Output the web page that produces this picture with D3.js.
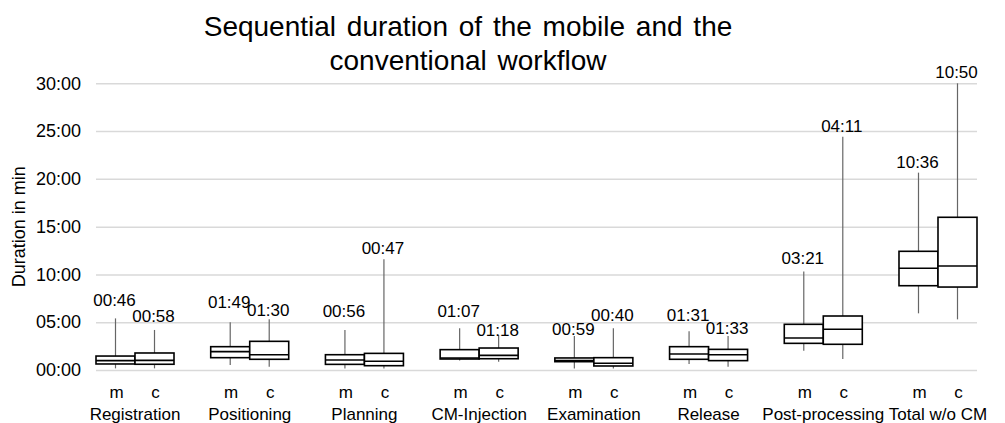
<!DOCTYPE html>
<html>
<head>
<meta charset="utf-8">
<script src="https://cdn.jsdelivr.net/npm/d3@7"></script>
<style>
  body { margin: 0; background: #fff; }
  text { font-family: "Liberation Sans", Arial, sans-serif; fill: #000; }
</style>
</head>
<body>
<div id="chart"></div>
<script>
const categories = ['Registration', 'Positioning', 'Planning', 'CM-Injection', 'Examination', 'Release', 'Post-processing', 'Total w/o CM'];
const workflows = ['m', 'c'];

// durations in minutes
const mobileMin    = [0.17, 0.52, 0.17, 1.00, 0.17, 0.63, 2.02, 5.93];
const mobileQ1     = [0.63, 1.29, 0.59, 1.15, 0.87, 1.12, 2.79, 8.82];
const mobileMedian = [0.98, 1.92, 1.05, 1.26, 0.98, 1.67, 3.35, 10.64];
const mobileQ3     = [1.46, 2.44, 1.60, 2.13, 1.26, 2.44, 4.78, 12.42];
const mobileMax    = [5.40, 5.00, 4.19, 4.36, 3.56, 4.05, 10.32, 20.65];
const mobileLabels = ['00:46', '01:49', '00:56', '01:07', '00:59', '01:31', '03:21', '10:36'];

const convMin    = [0.17, 0.35, 0.17, 0.87, 0.17, 0.35, 1.15, 5.30];
const convQ1     = [0.60, 1.12, 0.45, 1.18, 0.42, 0.98, 2.69, 8.68];
const convMedian = [1.01, 1.60, 0.91, 1.53, 0.70, 1.60, 4.26, 10.88];
const convQ3     = [1.78, 3.00, 1.74, 2.30, 1.29, 2.16, 5.65, 15.98];
const convMax    = [4.19, 5.30, 11.58, 3.66, 4.36, 3.56, 24.40, 30.00];
const convLabels = ['00:58', '01:30', '00:47', '01:18', '00:40', '01:33', '04:11', '10:50'];

const yTicks = [0, 5, 10, 15, 20, 25, 30];

const width = 1005, height = 423;
const plotLeft = 96, plotRight = 977, plotTop = 83.3, plotBottom = 370;

// how far (px) each value label sits above its whisker, as placed in the original
const gapM = [12, 14, 13, 11, 1, 10, 7, 5];
const gapC = [8, 3, 5, -1, 7, 2, 5, 5];

const svg = d3.select('#chart').append('svg')
  .attr('width', width)
  .attr('height', height);

const x = d3.scaleBand().domain(categories).range([plotLeft, plotRight]).paddingInner(0.32).paddingOuter(0);
const xs = d3.scaleBand().domain(workflows).range([0, x.bandwidth()]);
const y = d3.scaleLinear().domain([0, 30]).range([plotBottom, plotTop]);

// grid + y labels
const yAxis = svg.append('g')
  .attr('transform', `translate(${plotLeft},0)`)
  .call(d3.axisLeft(y).tickValues(yTicks).tickSize(-(plotRight - plotLeft)).tickPadding(15)
    .tickFormat(d => d3.format('02')(d) + ':00'));
yAxis.select('.domain').remove();
yAxis.selectAll('line').attr('stroke', '#d9d9d9').attr('stroke-width', 1.5);
yAxis.selectAll('text').style('font-size', '18px').attr('fill', '#000');

svg.append('text')
  .attr('transform', `translate(25,${(plotTop + plotBottom) / 2}) rotate(-90)`)
  .attr('text-anchor', 'middle')
  .style('font-size', '18px')
  .text('Duration in min');

// title
const title = svg.append('text')
  .attr('text-anchor', 'middle')
  .style('font-size', '28px')
  .style('word-spacing', '3px');
title.append('tspan').attr('x', 468).attr('y', 36).text('Sequential duration of the mobile and the');
title.append('tspan').attr('x', 468).attr('y', 70).text('conventional workflow');

const boxes = [];
categories.forEach((cat, i) => {
  boxes.push({cat, w: 'm', lo: mobileMin[i], q1: mobileQ1[i], med: mobileMedian[i], q3: mobileQ3[i], hi: mobileMax[i], label: mobileLabels[i], gap: gapM[i]});
  boxes.push({cat, w: 'c', lo: convMin[i], q1: convQ1[i], med: convMedian[i], q3: convQ3[i], hi: convMax[i], label: convLabels[i], gap: gapC[i]});
});

const bw = xs.bandwidth();
const g = svg.selectAll('.box')
  .data(boxes)
  .enter()
  .append('g')
  .attr('class', 'box')
  .attr('transform', d => `translate(${x(d.cat) + xs(d.w)},0)`);

// whiskers
g.append('line')
  .attr('x1', bw / 2).attr('x2', bw / 2)
  .attr('y1', d => y(d.lo)).attr('y2', d => y(d.hi))
  .attr('stroke', '#666').attr('stroke-width', 1.2);

g.append('rect')
  .attr('x', 0).attr('width', bw)
  .attr('y', d => y(d.q3)).attr('height', d => y(d.q1) - y(d.q3))
  .attr('fill', '#fff').attr('stroke', '#000').attr('stroke-width', 1.6);

g.append('line')
  .attr('x1', 0).attr('x2', bw)
  .attr('y1', d => y(d.med)).attr('y2', d => y(d.med))
  .attr('stroke', '#000').attr('stroke-width', 1.6);

// value labels
g.append('text')
  .attr('x', bw / 2 - 1)
  .attr('y', d => y(d.hi) - d.gap)
  .attr('text-anchor', 'middle')
  .style('font-size', '17px')
  .text(d => d.label);

// m / c labels
g.append('text')
  .attr('x', bw / 2 + 1)
  .attr('y', 398)
  .attr('text-anchor', 'middle')
  .style('font-size', '17px')
  .text(d => d.w);

svg.selectAll('.cat')
  .data(categories)
  .enter()
  .append('text')
  .attr('class', 'cat')
  .attr('x', d => x(d) + x.bandwidth() / 2)
  .attr('y', 420)
  .attr('text-anchor', 'middle')
  .style('font-size', '17px')
  .text(d => d);
</script>
</body>
</html>
